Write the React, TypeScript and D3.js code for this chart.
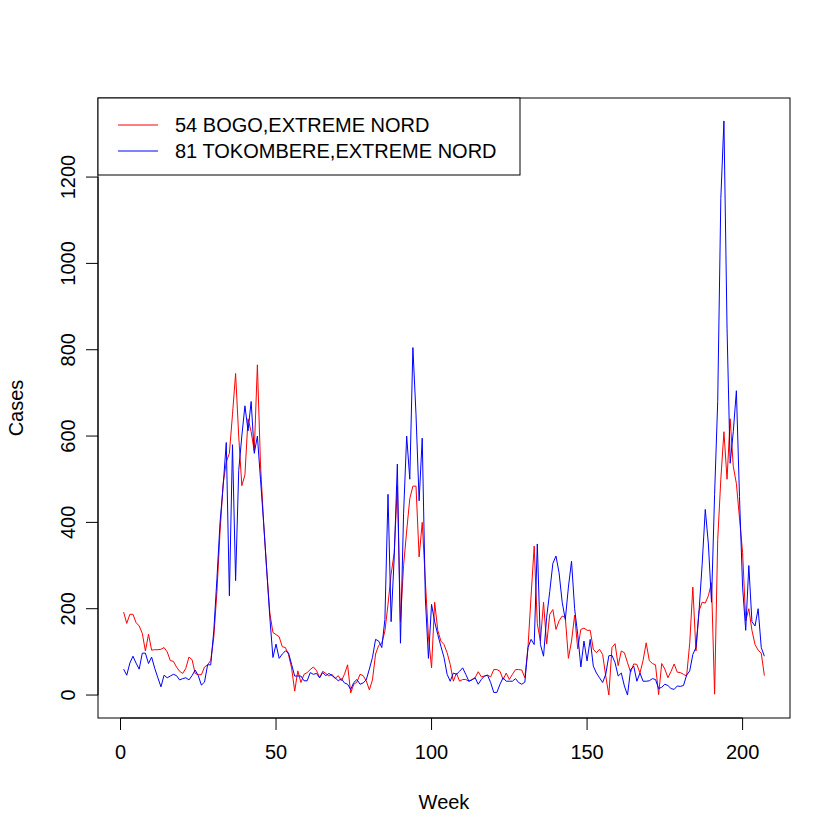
import React, { useEffect } from 'react'
import * as d3 from 'd3'

// weekly cases (week 1..207)
const bogo = [
  192, 166, 187, 187, 168, 160, 143, 102, 141, 104,
  105, 105, 106, 110, 100, 80, 78, 65, 55, 50,
  62, 88, 82, 50, 47, 47, 65, 70, 80, 135,
  240, 380, 490, 540, 560, 650, 745, 600, 485, 510,
  640, 610, 565, 765, 535, 400, 290, 190, 145, 140,
  135, 112, 110, 94, 63, 9, 56, 29, 48, 52,
  59, 65, 57, 40, 55, 50, 44, 48, 38, 45,
  33, 48, 70, 5, 25, 30, 48, 45, 33, 12,
  35, 95, 115, 120, 148, 210, 280, 330, 485, 170,
  300, 380, 455, 484, 484, 320, 400, 265, 135, 63,
  215, 150, 125, 117, 98, 71, 32, 51, 32, 36,
  36, 32, 36, 40, 54, 42, 44, 46, 42, 59,
  59, 55, 36, 51, 36, 48, 59, 59, 58, 40,
  110, 230, 345, 165, 125, 215, 118, 187, 198, 152,
  172, 183, 180, 85, 125, 185, 107, 152, 155, 150,
  150, 106, 98, 106, 94, 44, 0, 110, 119, 68,
  102, 98, 75, 53, 72, 71, 51, 80, 121, 80,
  73, 70, 1, 73, 60, 40, 55, 72, 53, 52,
  48, 44, 120, 250, 102, 195, 215, 213, 230, 260,
  2, 360, 500, 610, 500, 640, 530, 490, 410, 330,
  172, 200, 150, 117, 104, 97, 45,
]

const tokombere = [
  60, 46, 74, 90, 74, 60, 97, 97, 73, 88,
  62, 40, 19, 46, 40, 44, 48, 45, 35, 38,
  40, 35, 45, 58, 45, 23, 30, 70, 70, 150,
  270, 400, 485, 585, 230, 580, 265, 520, 600, 670,
  612, 680, 560, 600, 500, 400, 290, 180, 87, 118,
  85, 95, 102, 98, 71, 44, 44, 44, 33, 33,
  52, 48, 50, 40, 52, 45, 50, 45, 40, 33,
  38, 28, 25, 13, 29, 36, 25, 28, 35, 60,
  87, 129, 125, 110, 175, 465, 170, 320, 535, 120,
  420, 600, 500, 805, 650, 450, 595, 225, 85, 210,
  170, 140, 113, 87, 48, 32, 51, 48, 55, 63,
  48, 32, 35, 40, 25, 36, 44, 46, 29, 6,
  6, 25, 40, 32, 32, 32, 38, 29, 25, 30,
  110, 129, 117, 350, 117, 90, 180, 240, 305, 322,
  283, 215, 175, 250, 310, 200, 140, 65, 125, 79,
  129, 67, 51, 40, 29, 48, 91, 92, 75, 44,
  51, 21, 0, 59, 67, 32, 51, 32, 32, 33,
  38, 36, 15, 18, 25, 22, 15, 13, 21, 20,
  22, 46, 56, 94, 110, 195, 303, 430, 350, 215,
  465, 680, 1150, 1330, 850, 537, 610, 705, 460, 250,
  150, 300, 170, 160, 200, 110, 90,
]

const seriesNames = ['54 BOGO,EXTREME NORD', '81 TOKOMBERE,EXTREME NORD']
const seriesColors = ['red', 'blue']
const xTicks = [0, 50, 100, 150, 200]
const yTicks = [0, 200, 400, 600, 800, 1000, 1200]

const W = 840
const H = 840
const left = 98
const right = 790
const top = 98
const bottom = 718
const font = '"Liberation Sans", Arial, sans-serif'

export default function App(): React.ReactElement {
  useEffect(() => {
    document.body.style.margin = '0'
  }, [])

  const series = [bogo, tokombere]
  const n = bogo.length
  const yMax = d3.max(series.flat())!
  const yMin = d3.min(series.flat())!

  // R style 4% padding on the data range
  const xPad = (n - 1) * 0.04
  const yPad = (yMax - yMin) * 0.04
  const x = d3.scaleLinear().domain([1 - xPad, n + xPad]).range([left, right])
  const y = d3.scaleLinear().domain([yMin - yPad, yMax + yPad]).range([bottom, top])

  const line = d3
    .line<number>()
    .x((_, i) => x(i + 1))
    .y((d) => y(d))

  return (
    <svg width={W} height={H} style={{ display: 'block', background: 'white' }} fontFamily={font}>
      {series.map((s, i) => (
        <path key={i} d={line(s)!} fill="none" stroke={seriesColors[i]} strokeWidth={1} />
      ))}

      <rect x={left} y={top} width={right - left} height={bottom - top} fill="none" stroke="black" />

      {/* x axis */}
      <line x1={x(xTicks[0])} x2={x(xTicks[xTicks.length - 1])} y1={bottom} y2={bottom} stroke="black" />
      {xTicks.map((t) => (
        <g key={t}>
          <line x1={x(t)} x2={x(t)} y1={bottom} y2={bottom + 12} stroke="black" />
          <text x={x(t)} y={759} fontSize={20} textAnchor="middle">
            {t}
          </text>
        </g>
      ))}
      <text x={(left + right) / 2} y={809} fontSize={20} textAnchor="middle">
        Week
      </text>

      {/* y axis */}
      <line x1={left} x2={left} y1={y(yTicks[0])} y2={y(yTicks[yTicks.length - 1])} stroke="black" />
      {yTicks.map((t) => (
        <g key={t}>
          <line x1={left - 12} x2={left} y1={y(t)} y2={y(t)} stroke="black" />
          <text transform={`translate(75,${y(t)}) rotate(-90)`} fontSize={20} textAnchor="middle">
            {t}
          </text>
        </g>
      ))}
      <text transform={`translate(23,${(top + bottom) / 2}) rotate(-90)`} fontSize={20} textAnchor="middle">
        Cases
      </text>

      {/* legend */}
      <rect x={left} y={top} width={422} height={77} fill="white" stroke="black" />
      {seriesNames.map((name, i) => (
        <g key={name}>
          <line x1={118} x2={158} y1={125 + i * 26} y2={125 + i * 26} stroke={seriesColors[i]} />
          <text x={175} y={132 + i * 26} fontSize={20}>
            {name}
          </text>
        </g>
      ))}
    </svg>
  )
}
